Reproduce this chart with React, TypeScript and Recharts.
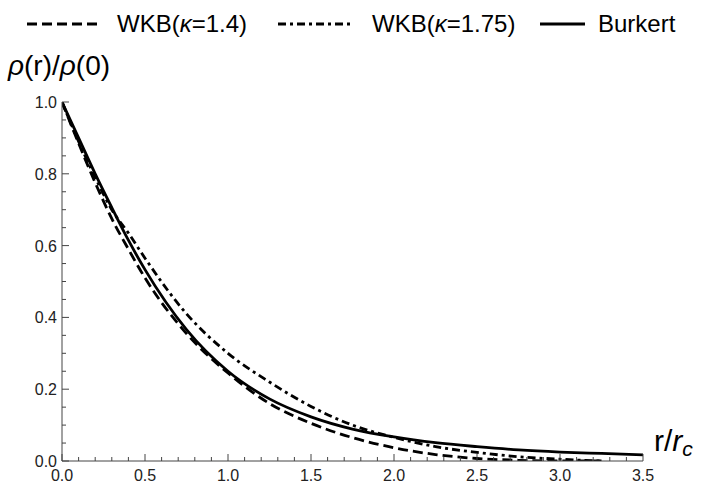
import { LineChart, Line, XAxis, YAxis } from 'recharts'

const rValues = [0, 0.1, 0.2, 0.3, 0.4, 0.5, 0.75, 1.0, 1.25, 1.5, 1.75, 2.0, 2.25, 2.5, 2.75, 3.0, 3.25, 3.5]
const wkb14 = [1.0, 0.885, 0.775, 0.675, 0.59, 0.51, 0.355, 0.245, 0.16, 0.105, 0.065, 0.037, 0.018, 0.007, 0.002, 0.0, 0.0, null]
const wkb175 = [1.0, 0.89, 0.79, 0.7, 0.635, 0.565, 0.41, 0.3, 0.22, 0.152, 0.1, 0.066, 0.04, 0.024, 0.012, 0.005, 0.0, null]
const burkert = [1.0, 0.9, 0.8, 0.706, 0.615, 0.533, 0.366, 0.25, 0.173, 0.123, 0.089, 0.067, 0.051, 0.04, 0.031, 0.025, 0.021, 0.017]

const xTicks = [
  0, 0.1, 0.2, 0.3, 0.4, 0.5, 0.6, 0.7, 0.8, 0.9, 1.0, 1.1, 1.2, 1.3, 1.4, 1.5, 1.6, 1.7,
  1.8, 1.9, 2.0, 2.1, 2.2, 2.3, 2.4, 2.5, 2.6, 2.7, 2.8, 2.9, 3.0, 3.1, 3.2, 3.3, 3.4, 3.5,
]
const yTicks = [
  0, 0.05, 0.1, 0.15, 0.2, 0.25, 0.3, 0.35, 0.4, 0.45, 0.5, 0.55, 0.6, 0.65, 0.7, 0.75,
  0.8, 0.85, 0.9, 0.95, 1.0,
]

const FONT = '"Liberation Sans", Arial, sans-serif'
const AXIS = '#444'
const TEXT = '#222'
const INK = '#000'
const DASH = '10 5'
const DASHDOT = '8 4 3 4'
const LW = 2.8

const data = rValues.map((r, i) => ({
  r,
  wkb14: wkb14[i],
  wkb175: wkb175[i],
  burkert: burkert[i],
}))

const isStep = (v: number, step: number) => Math.abs(v / step - Math.round(v / step)) < 1e-6

function XTick({ x, y, payload }: any) {
  const v = payload.value as number
  const major = isStep(v, 0.5)
  return (
    <g>
      <line x1={x} x2={x} y1={y} y2={y - (major ? 7 : 4)} stroke={AXIS} />
      {major && (
        <text x={x} y={y + 20} textAnchor="middle" fontSize={16} fill={TEXT} fontFamily={FONT}>
          {v.toFixed(1)}
        </text>
      )}
    </g>
  )
}

function YTick({ x, y, payload }: any) {
  const v = payload.value as number
  const major = isStep(v, 0.2)
  return (
    <g>
      <line x1={x} x2={x + (major ? 7 : 4)} y1={y} y2={y} stroke={AXIS} />
      {major && (
        <text x={x - 5} y={y + 6} textAnchor="end" fontSize={16} fill={TEXT} fontFamily={FONT}>
          {v.toFixed(1)}
        </text>
      )}
    </g>
  )
}

function YTitle({ viewBox }: any) {
  return (
    <text x={viewBox.x - 14} y={viewBox.y - 27} fontSize={28} fill={INK} fontFamily={FONT}>
      <tspan fontStyle="italic">ρ</tspan>(r)/<tspan fontStyle="italic">ρ</tspan>(0)
    </text>
  )
}

function XTitle({ viewBox }: any) {
  return (
    <text x={viewBox.x + viewBox.width + 11} y={viewBox.y - 10} fontSize={30} fill={INK} fontFamily={FONT}>
      r/<tspan fontStyle="italic">r</tspan>
      <tspan fontStyle="italic" fontSize={21} dy={5}>c</tspan>
    </text>
  )
}

function LegendItem({
  left,
  width,
  gap,
  dash,
  label,
}: {
  left: number
  width: number
  gap: number
  dash?: string
  label: React.ReactNode
}) {
  return (
    <div style={{ position: 'absolute', left, top: 11, height: 26, display: 'flex', alignItems: 'center' }}>
      <svg width={width} height={26} style={{ display: 'block' }}>
        <line x1={0} x2={width} y1={13} y2={13} stroke={INK} strokeWidth={3} strokeDasharray={dash} />
      </svg>
      <span style={{ marginLeft: gap, fontSize: 24, lineHeight: '26px', fontFamily: FONT, color: INK }}>{label}</span>
    </div>
  )
}

export default function App() {
  return (
    <div style={{ position: 'absolute', left: 0, top: 0, width: 703, height: 483, background: '#fff' }}>
      <LegendItem left={27} width={70} gap={20} dash={DASH} label={<>WKB(<i>κ</i>=1.4)</>} />
      <LegendItem left={278} width={74} gap={20} dash={DASHDOT} label={<>WKB(<i>κ</i>=1.75)</>} />
      <LegendItem left={540} width={45} gap={13} label="Burkert" />
      <LineChart
        width={703}
        height={483}
        data={data}
        margin={{ top: 102, right: 60, bottom: 2, left: 22 }}
        style={{ position: 'absolute', left: 0, top: 0 }}
      >
        <XAxis
          dataKey="r"
          type="number"
          domain={[0, 3.5]}
          ticks={xTicks}
          interval={0}
          height={20}
          tickSize={0}
          tickMargin={0}
          tickLine={false}
          stroke={AXIS}
          tick={<XTick />}
          label={{ content: <XTitle /> }}
          allowDataOverflow
        />
        <YAxis
          type="number"
          domain={[0, 1]}
          ticks={yTicks}
          interval={0}
          width={40}
          tickSize={0}
          tickMargin={0}
          tickLine={false}
          stroke={AXIS}
          tick={<YTick />}
          label={{ content: <YTitle /> }}
          allowDataOverflow
        />
        <Line dataKey="wkb14" type="monotone" stroke={INK} strokeWidth={LW} strokeDasharray={DASH} dot={false} isAnimationActive={false} />
        <Line dataKey="wkb175" type="monotone" stroke={INK} strokeWidth={LW} strokeDasharray={DASHDOT} dot={false} isAnimationActive={false} />
        <Line dataKey="burkert" type="monotone" stroke={INK} strokeWidth={LW} dot={false} isAnimationActive={false} />
      </LineChart>
    </div>
  )
}
